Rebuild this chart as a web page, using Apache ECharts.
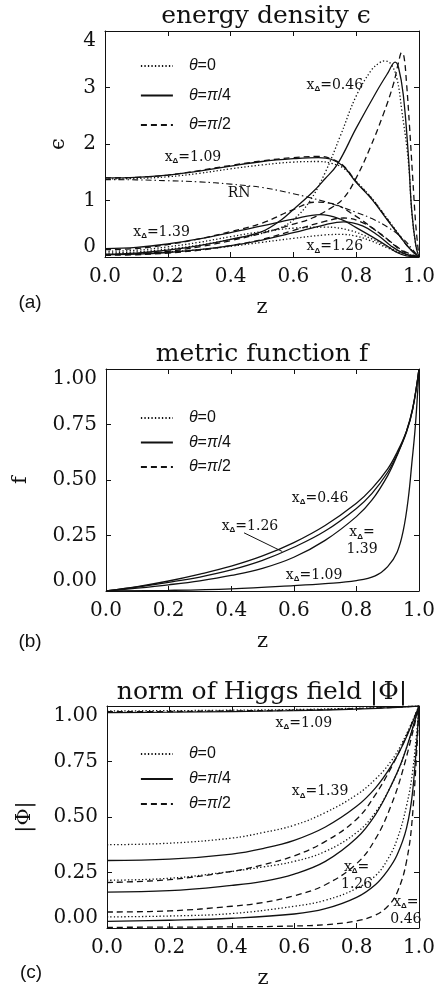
<!DOCTYPE html>
<html><head><meta charset="utf-8">
<style>html,body{margin:0;padding:0;background:#fff}#c{width:441px;height:990px}</style>
<script src="https://cdn.jsdelivr.net/npm/echarts@6/dist/echarts.min.js"></script>
</head><body><div id="c"></div>
<script>
// ---------- axis ticks ----------
const zTicks = [0, 0.2, 0.4, 0.6, 0.8, 1.0];
const epsTicks = [0, 1, 2, 3, 4];
const unitTicks = [0, 0.25, 0.5, 0.75, 1.0];
const thetaNames = ['θ=0', 'θ=π/4', 'θ=π/2'];

// ---------- (a) energy density, [z, eps] ----------
const eps046_t0 = [[0,0.07],[0.1,0.09],[0.2,0.14],[0.3,0.21],[0.4,0.31],[0.5,0.42],[0.56,0.52],[0.6,0.66],[0.65,0.97],[0.7,1.48],[0.75,2.15],[0.8,2.85],[0.85,3.32],[0.875,3.44],[0.89,3.47],[0.91,3.42],[0.93,3.15],[0.945,2.6],[0.966,1.7],[0.977,0.8],[0.99,0.2],[1,0]];
const eps046_t1 = [[0,0.05],[0.1,0.07],[0.2,0.12],[0.3,0.2],[0.4,0.31],[0.5,0.45],[0.56,0.65],[0.6,0.84],[0.66,1.14],[0.7,1.38],[0.74,1.64],[0.8,2.28],[0.865,2.93],[0.9,3.25],[0.924,3.45],[0.935,3.35],[0.95,2.87],[0.966,1.81],[0.977,0.81],[0.99,0.2],[1,0]];
const eps046_t2 = [[0,0.04],[0.1,0.06],[0.2,0.1],[0.3,0.18],[0.4,0.29],[0.5,0.42],[0.6,0.58],[0.66,0.69],[0.72,0.87],[0.76,1.04],[0.8,1.4],[0.844,1.93],[0.886,2.52],[0.918,3.05],[0.935,3.45],[0.945,3.62],[0.952,3.55],[0.96,3.1],[0.97,2.3],[0.98,1.4],[0.99,0.55],[1,0]];
const eps109_t0 = [[0,1.38],[0.1,1.39],[0.2,1.42],[0.3,1.48],[0.4,1.56],[0.5,1.63],[0.6,1.68],[0.68,1.69],[0.72,1.66],[0.76,1.57],[0.8,1.34],[0.85,1.04],[0.9,0.67],[0.94,0.37],[0.97,0.16],[1,0]];
const eps109_t1 = [[0,1.40],[0.1,1.41],[0.2,1.45],[0.3,1.52],[0.4,1.61],[0.5,1.69],[0.6,1.74],[0.68,1.76],[0.72,1.73],[0.76,1.6],[0.8,1.32],[0.85,1.02],[0.9,0.65],[0.94,0.36],[0.97,0.15],[1,0]];
const eps109_t2 = [[0,1.40],[0.1,1.41],[0.2,1.45],[0.3,1.53],[0.4,1.62],[0.5,1.70],[0.6,1.76],[0.68,1.78],[0.72,1.74],[0.76,1.61],[0.8,1.33],[0.85,1.03],[0.9,0.66],[0.94,0.36],[0.97,0.15],[1,0]];
const eps126_t0 = [[0,0.05],[0.1,0.06],[0.2,0.09],[0.3,0.13],[0.4,0.19],[0.5,0.26],[0.6,0.33],[0.7,0.39],[0.75,0.4],[0.8,0.37],[0.85,0.28],[0.9,0.16],[0.95,0.05],[1,0]];
const eps126_t1 = [[0,0.04],[0.1,0.05],[0.2,0.08],[0.3,0.13],[0.4,0.2],[0.5,0.3],[0.6,0.43],[0.7,0.57],[0.76,0.62],[0.82,0.55],[0.87,0.38],[0.91,0.2],[0.95,0.07],[1,0]];
const eps126_t2 = [[0,0.03],[0.1,0.04],[0.2,0.07],[0.3,0.12],[0.4,0.2],[0.5,0.31],[0.6,0.47],[0.7,0.63],[0.76,0.69],[0.82,0.61],[0.88,0.4],[0.93,0.17],[0.97,0.04],[1,0]];
const eps139_t0 = [[0,0.1],[0.1,0.12],[0.2,0.18],[0.3,0.26],[0.4,0.36],[0.5,0.45],[0.6,0.51],[0.7,0.53],[0.78,0.47],[0.85,0.32],[0.9,0.18],[0.95,0.06],[1,0]];
const eps139_t1 = [[0,0.15],[0.1,0.17],[0.2,0.23],[0.3,0.32],[0.4,0.43],[0.5,0.55],[0.6,0.67],[0.685,0.75],[0.75,0.67],[0.8,0.52],[0.85,0.36],[0.9,0.19],[0.93,0.08],[0.96,0.02],[1,0]];
const eps139_t2 = [[0,0.13],[0.1,0.15],[0.2,0.22],[0.3,0.32],[0.4,0.45],[0.5,0.6],[0.6,0.84],[0.67,0.97],[0.72,0.95],[0.8,0.72],[0.85,0.52],[0.9,0.31],[0.95,0.11],[1,0]];
const epsRN = [[0,1.37],[0.1,1.365],[0.2,1.35],[0.3,1.33],[0.4,1.29],[0.5,1.23],[0.6,1.12],[0.7,0.98],[0.76,0.87],[0.8,0.79],[0.85,0.68],[0.9,0.53],[0.95,0.32],[0.98,0.13],[1,0]];

// ---------- (b) metric function f, [z, f] ----------
const f046 = [[0,0],[0.1,0.02],[0.2,0.045],[0.3,0.076],[0.4,0.112],[0.5,0.158],[0.6,0.218],[0.7,0.295],[0.8,0.395],[0.85,0.462],[0.9,0.55],[0.93,0.625],[0.96,0.72],[0.98,0.82],[1,1]];
const f126 = [[0,0],[0.1,0.018],[0.2,0.039],[0.3,0.063],[0.4,0.095],[0.5,0.138],[0.6,0.197],[0.7,0.27],[0.8,0.372],[0.85,0.44],[0.9,0.535],[0.93,0.615],[0.96,0.715],[0.98,0.82],[1,1]];
const f139 = [[0,0],[0.1,0.013],[0.2,0.028],[0.3,0.046],[0.4,0.07],[0.5,0.102],[0.6,0.152],[0.7,0.228],[0.8,0.335],[0.85,0.41],[0.9,0.52],[0.93,0.61],[0.96,0.72],[0.98,0.825],[1,1]];
const f109 = [[0,0],[0.2,0.003],[0.4,0.01],[0.6,0.024],[0.7,0.033],[0.8,0.047],[0.86,0.068],[0.9,0.11],[0.93,0.175],[0.95,0.274],[0.966,0.42],[0.977,0.574],[0.987,0.72],[0.995,0.88],[1,1]];

// ---------- (c) norm of Higgs field, [z, |Phi|] ----------
const phi109_t0 = [[0,0.978],[0.2,0.979],[0.4,0.981],[0.6,0.984],[0.8,0.99],[0.9,0.994],[1,1]];
const phi109_t1 = [[0,0.97],[0.2,0.972],[0.4,0.975],[0.6,0.979],[0.8,0.986],[0.9,0.992],[1,1]];
const phi109_t2 = [[0,0.974],[0.2,0.975],[0.4,0.978],[0.6,0.981],[0.8,0.988],[0.9,0.993],[1,1]];
const phi139_t0 = [[0,0.375],[0.2,0.382],[0.4,0.405],[0.5,0.43],[0.6,0.463],[0.7,0.52],[0.8,0.6],[0.86,0.67],[0.91,0.75],[0.95,0.845],[1,1]];
const phi139_t1 = [[0,0.304],[0.2,0.31],[0.4,0.333],[0.5,0.358],[0.6,0.395],[0.7,0.455],[0.8,0.548],[0.86,0.63],[0.91,0.728],[0.95,0.83],[1,1]];
const phi139_t2 = [[0,0.205],[0.2,0.218],[0.4,0.255],[0.5,0.285],[0.6,0.325],[0.7,0.39],[0.8,0.49],[0.86,0.6],[0.91,0.72],[0.95,0.835],[1,1]];
const phi126_t0 = [[0,0.215],[0.2,0.224],[0.4,0.255],[0.5,0.275],[0.6,0.3],[0.7,0.345],[0.8,0.43],[0.86,0.52],[0.91,0.64],[0.95,0.77],[1,1]];
const phi126_t1 = [[0,0.162],[0.2,0.168],[0.4,0.192],[0.5,0.21],[0.6,0.243],[0.7,0.3],[0.8,0.405],[0.86,0.51],[0.91,0.64],[0.95,0.77],[1,1]];
const phi126_t2 = [[0,0.072],[0.2,0.077],[0.4,0.098],[0.5,0.115],[0.6,0.145],[0.7,0.195],[0.8,0.29],[0.86,0.4],[0.91,0.55],[0.95,0.72],[1,1]];
const phi046_t0 = [[0,0.05],[0.2,0.054],[0.4,0.065],[0.6,0.098],[0.7,0.125],[0.8,0.178],[0.86,0.235],[0.9,0.31],[0.93,0.4],[0.96,0.55],[0.98,0.71],[1,1]];
const phi046_t1 = [[0,0.03],[0.2,0.035],[0.4,0.044],[0.6,0.063],[0.7,0.087],[0.8,0.138],[0.86,0.195],[0.9,0.26],[0.93,0.33],[0.96,0.45],[0.98,0.62],[1,1]];
const phi046_t2 = [[0,0.003],[0.2,0.004],[0.4,0.005],[0.6,0.009],[0.7,0.015],[0.8,0.032],[0.86,0.058],[0.9,0.098],[0.93,0.16],[0.96,0.3],[0.98,0.52],[1,1]];

// ---------- styles / layout ----------
const SERIF = 'DejaVu Serif';
const SANS = 'Liberation Sans';
const INK = '#111';
const STY = {
  dot:  {type: [1.3, 2.2], width: 1.3},
  sol:  {type: 'solid', width: 1.3},
  dash: {type: [6, 4], width: 1.3},
  dd:   {type: [6, 3, 1.5, 3], width: 1.1}
};
const grids = [
  {left: 105, top: 31, width: 314, height: 226},
  {left: 106, top: 369, width: 313, height: 222},
  {left: 107, top: 706, width: 312, height: 222}
];

const chart = echarts.init(document.getElementById('c'), null, {renderer: 'canvas'});

function line(name, data, sty, g) {
  return {
    type: 'line', name: name, data: data, xAxisIndex: g * 2, yAxisIndex: g * 2,
    symbol: 'none', showSymbol: false, smooth: 0.4,
    lineStyle: Object.assign({color: INK}, STY[sty]), itemStyle: {color: INK},
    silent: true, animation: false, clip: true
  };
}
const series = [
  line(thetaNames[0], eps046_t0, 'dot', 0), line(thetaNames[1], eps046_t1, 'sol', 0), line(thetaNames[2], eps046_t2, 'dash', 0),
  line(thetaNames[0], eps109_t0, 'dot', 0), line(thetaNames[1], eps109_t1, 'sol', 0), line(thetaNames[2], eps109_t2, 'dash', 0),
  line(thetaNames[0], eps126_t0, 'dot', 0), line(thetaNames[1], eps126_t1, 'sol', 0), line(thetaNames[2], eps126_t2, 'dash', 0),
  line(thetaNames[0], eps139_t0, 'dot', 0), line(thetaNames[1], eps139_t1, 'sol', 0), line(thetaNames[2], eps139_t2, 'dash', 0),
  line('RN', epsRN, 'dd', 0),
  line(thetaNames[1], f046, 'sol', 1), line(thetaNames[1], f126, 'sol', 1),
  line(thetaNames[1], f139, 'sol', 1), line(thetaNames[1], f109, 'sol', 1),
  line(thetaNames[0], phi109_t0, 'dot', 2), line(thetaNames[1], phi109_t1, 'sol', 2), line(thetaNames[2], phi109_t2, 'dash', 2),
  line(thetaNames[0], phi139_t0, 'dot', 2), line(thetaNames[1], phi139_t1, 'sol', 2), line(thetaNames[2], phi139_t2, 'dash', 2),
  line(thetaNames[0], phi126_t0, 'dot', 2), line(thetaNames[1], phi126_t1, 'sol', 2), line(thetaNames[2], phi126_t2, 'dash', 2),
  line(thetaNames[0], phi046_t0, 'dot', 2), line(thetaNames[1], phi046_t1, 'sol', 2), line(thetaNames[2], phi046_t2, 'dash', 2)
];

const axLine = {show: true, onZero: false, lineStyle: {color: INK, width: 1}};
const axTick = {show: true, inside: true, length: 5, lineStyle: {color: INK, width: 1}};
const xAxes = [], yAxes = [];
const yTicksList = [epsTicks, unitTicks, unitTicks];
const yNames = ['ϵ', 'f', '|Φ|'];
const yGaps = [36, 75, 72];
grids.forEach((g, i) => {
  xAxes.push({type: 'value', gridIndex: i, position: 'bottom', min: zTicks[0], max: zTicks[zTicks.length - 1], interval: zTicks[1] - zTicks[0],
    axisLine: axLine, axisTick: axTick, splitLine: {show: false},
    axisLabel: {margin: 10, color: INK, fontFamily: SERIF, fontSize: 20, formatter: v => v.toFixed(1)},
    name: 'z', nameLocation: 'middle', nameGap: 40, nameTextStyle: {color: INK, fontFamily: SERIF, fontSize: 21}});
  xAxes.push({type: 'value', gridIndex: i, position: 'top', min: zTicks[0], max: zTicks[zTicks.length - 1], interval: zTicks[1] - zTicks[0],
    axisLine: axLine, axisTick: axTick, splitLine: {show: false}, axisLabel: {show: false}});
  const yt = yTicksList[i];
  const dec = i === 0 ? 0 : 2;
  yAxes.push({type: 'value', gridIndex: i, position: 'left', min: yt[0], max: yt[yt.length - 1], interval: yt[1] - yt[0],
    axisLine: axLine, axisTick: axTick, splitLine: {show: false},
    axisLabel: {margin: 9, color: INK, fontFamily: SERIF, fontSize: 20, formatter: v => v.toFixed(dec),
      verticalAlignMinLabel: 'bottom', verticalAlignMaxLabel: 'top'},
    name: yNames[i], nameLocation: 'middle', nameGap: yGaps[i], nameTextStyle: {color: INK, fontFamily: SERIF, fontSize: 21}});
  yAxes.push({type: 'value', gridIndex: i, position: 'right', min: yt[0], max: yt[yt.length - 1], interval: yt[1] - yt[0],
    axisLine: axLine, axisTick: axTick, splitLine: {show: false}, axisLabel: {show: false}});
});

const legendTops = [53, 405, 741];
const legendGaps = [13.5, 8.5, 9];
const legends = legendTops.map((t, i) => ({
  orient: 'vertical', left: 135, top: t, itemWidth: 32, itemHeight: 14, itemGap: legendGaps[i],
  data: thetaNames, selectedMode: false,
  itemStyle: {opacity: 0}, lineStyle: {width: 1.8},
  formatter: n => n.replace('θ', '{i|θ}').replace('π', '{i|π}'),
  textStyle: {color: INK, fontFamily: SANS, fontSize: 16, padding: [0, 0, 0, 11],
    rich: {i: {fontStyle: 'italic', fontFamily: SANS, fontSize: 16, color: INK}}}
}));

const titles = [
  {text: 'energy density ϵ', left: 266, top: 4},
  {text: 'metric function f', left: 262, top: 342},
  {text: 'norm of Higgs field |Φ|', left: 262, top: 680}
].map(t => Object.assign(t, {textAlign: 'center', padding: 0,
  textStyle: {color: INK, fontFamily: SERIF, fontSize: 25, fontWeight: 'normal'}}));

chart.setOption({
  backgroundColor: '#fff', animation: false,
  title: titles, legend: legends, grid: grids, xAxis: xAxes, yAxis: yAxes, series: series
});

// ---------- annotations (anchored in data coordinates) ----------
const annotations = [
  {g: 0, at: [0.732, 3.04], text: 'x{d|Δ}=0.46'},
  {g: 0, at: [0.28, 1.77], text: 'x{d|Δ}=1.09'},
  {g: 0, at: [0.427, 1.13], text: 'RN'},
  {g: 0, at: [0.18, 0.44], text: 'x{d|Δ}=1.39'},
  {g: 0, at: [0.732, 0.18], text: 'x{d|Δ}=1.26'},
  {g: 1, at: [0.684, 0.418], text: 'x{d|Δ}=0.46'},
  {g: 1, at: [0.46, 0.292], text: 'x{d|Δ}=1.26'},
  {g: 1, at: [0.818, 0.225], text: 'x{d|Δ}=\n1.39'},
  {g: 1, at: [0.665, 0.072], text: 'x{d|Δ}=1.09'},
  {g: 2, at: [0.631, 0.924], text: 'x{d|Δ}=1.09'},
  {g: 2, at: [0.683, 0.614], text: 'x{d|Δ}=1.39'},
  {g: 2, at: [0.80, 0.236], text: 'x{d|Δ}=\n1.26'},
  {g: 2, at: [0.958, 0.078], text: 'x{d|Δ}=\n0.46'}
];
const pointer = {g: 1, from: [0.441, 0.262], to: [0.563, 0.178]};
const panelTags = [{t: '(a)', x: 30, y: 303}, {t: '(b)', x: 30, y: 642}, {t: '(c)', x: 31, y: 973}];

const gfx = [];
annotations.forEach(a => {
  const p = chart.convertToPixel({gridIndex: a.g}, a.at);
  gfx.push({type: 'text', x: p[0], y: p[1], silent: true, z: 100,
    style: {text: a.text, fill: INK, fontFamily: SERIF, fontSize: 14, lineHeight: 17, align: 'center', verticalAlign: 'middle',
      rich: {d: {fontFamily: SANS, fontSize: 8, fontWeight: 'bold', fill: INK, padding: [8, 0, 0, 0]}}}});
});
const p1 = chart.convertToPixel({gridIndex: pointer.g}, pointer.from);
const p2 = chart.convertToPixel({gridIndex: pointer.g}, pointer.to);
gfx.push({type: 'line', silent: true, z: 100, shape: {x1: p1[0], y1: p1[1], x2: p2[0], y2: p2[1]}, style: {stroke: INK, lineWidth: 1}});
panelTags.forEach(t => gfx.push({type: 'text', x: t.x, y: t.y, silent: true,
  style: {text: t.t, fill: INK, fontFamily: SANS, fontSize: 19, align: 'center', verticalAlign: 'middle'}}));
chart.setOption({graphic: gfx});
</script>
</body></html>
